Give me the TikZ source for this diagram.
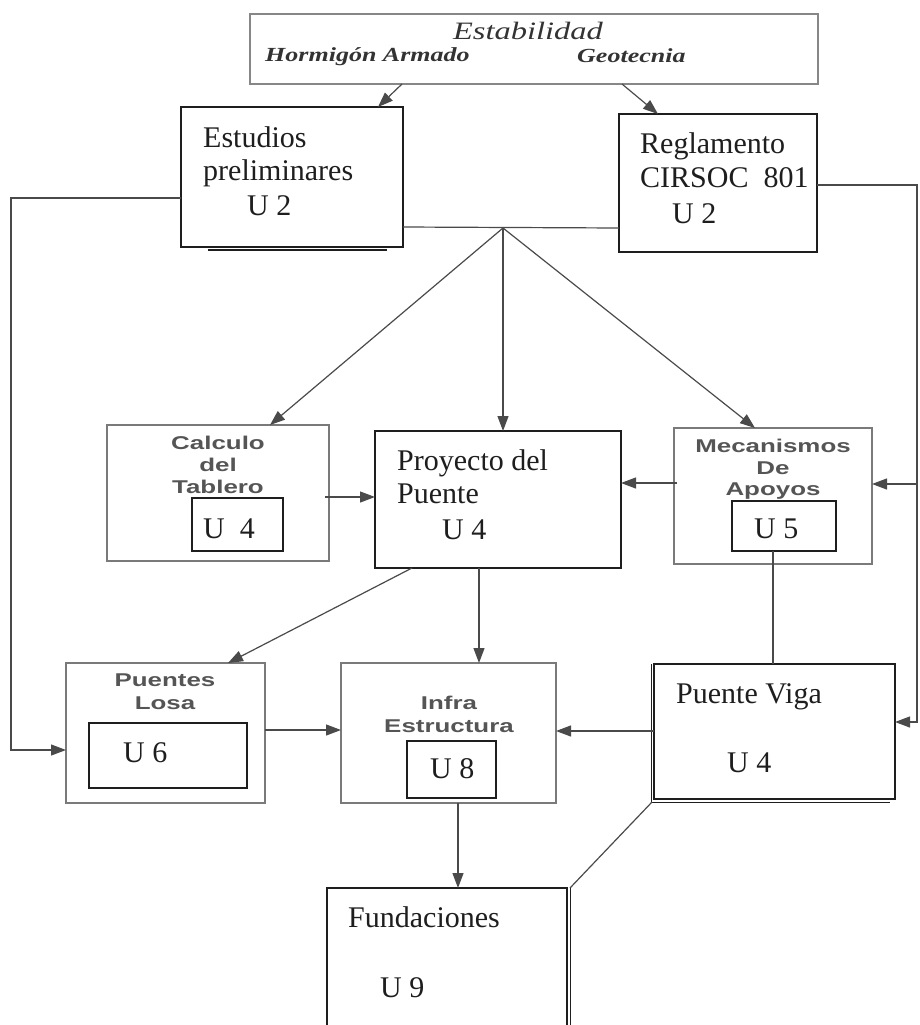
\documentclass[tikz,border=0pt]{standalone}
\usepackage{fontspec}
\setmainfont{Liberation Serif}
\newfontfamily\gsans[FakeStretch=1.4]{Liberation Sans}
\newfontfamily\stabfont[FakeStretch=1.3]{Liberation Serif}
\newfontfamily\subfont[FakeStretch=1.3]{Liberation Serif}
\usetikzlibrary{arrows.meta,fit}
\definecolor{ink}{HTML}{1E1E1E}
\definecolor{lineg}{HTML}{4A4A4A}
\definecolor{boxg}{HTML}{7A7A7A}
\definecolor{txtg}{HTML}{555555}
\definecolor{topt}{HTML}{333333}
\begin{document}
\begin{tikzpicture}[x=1pt,y=-1pt,
 bk/.style={draw=ink, line width=1.3pt, inner sep=0pt, outer sep=0pt},
 gb/.style={draw=boxg, line width=1.5pt, inner sep=0pt, outer sep=0pt},
 tx/.style={anchor=base west, inner sep=0pt, text=ink, font=\fontsize{30}{34}\selectfont},
 gx/.style={anchor=base, inner sep=0pt, text=txtg, font=\gsans\bfseries\fontsize{18.5}{22}\selectfont},
 con/.style={draw=lineg, line width=1.2pt},
 arr/.style={con, -{Triangle[length=15pt,width=11pt]}}]

\useasboundingbox (0,0) rectangle (920,1025);
\clip (0,0) rectangle (920,1025);
\fill[white] (0,0) rectangle (920,1025);

% ---------- boxes ----------
\node[gb, draw=boxg!90, line width=1.3pt, fit={(250,14) (818,84)}] (top) {};
\node[bk, fit={(181,107) (403,247)}] (est) {};
\node[bk, fit={(619,114) (817,252)}] (reg) {};
\node[gb, fit={(107,425) (329,561)}] (calc) {};
\node[bk, line width=1.2pt, fit={(192,498) (283,551)}] (u4a) {};
\node[bk, fit={(375,431) (621,568)}] (proy) {};
\node[gb, fit={(674,428) (872,564)}] (mec) {};
\node[bk, line width=1.2pt, fit={(732,501) (836,551)}] (u5) {};
\node[gb, fit={(66,663) (265,803)}] (losa) {};
\node[bk, line width=1.2pt, fit={(89,723) (247,788)}] (u6) {};
\node[gb, fit={(341,663) (556,803)}] (infra) {};
\node[bk, line width=1.2pt, fit={(407,741) (496,798)}] (u8) {};
\node[bk, fit={(654,664) (895,799)}] (viga) {};
\node[bk, fit={(327,888) (567,1040)}] (fund) {};

% doubled edges of the scanned boxes
\draw[ink, line width=2pt] (208,249.5) -- (387,249.5);
\draw[ink, line width=1pt] (651.5,664) -- (651.5,802.5) -- (890,802.5);
\draw[ink, line width=1pt] (570.5,888) -- (570.5,1025);

% ---------- texts ----------
\node[anchor=base, inner sep=0pt, text=topt, font=\stabfont\itshape\fontsize{25}{28}\selectfont] (tStab) at (528,40) {Estabilidad};
\node[anchor=base west, inner sep=0pt, text=topt, font=\subfont\bfseries\itshape\fontsize{20}{22}\selectfont] (tHor) at (265,62) {Hormigón Armado};
\node[anchor=base west, inner sep=0pt, text=topt, font=\subfont\bfseries\itshape\fontsize{20}{22}\selectfont] (tGeo) at (577,63) {Geotecnia};

\node[tx] (e1) at (203,147) {Estudios};
\node[tx] (e2) at (203,180) {preliminares};
\node[tx] (e3) at (247,215) {U 2};

\node[tx] (r1) at (640,153) {Reglamento};
\node[tx] (r2) at (640,187) {CIRSOC\ \ 801};
\node[tx] (r3) at (672,223) {U 2};

\node[gx] (c1) at (218,449) {Calculo};
\node[gx] (c2) at (218,471) {del};
\node[gx] (c3) at (218,493) {Tablero};
\node[tx] (c4) at (203,538) {U\ \ 4};

\node[tx] (p1) at (397,470) {Proyecto del};
\node[tx] (p2) at (397,503) {Puente};
\node[tx] (p3) at (442,539) {U 4};

\node[gx] (m1) at (773,452) {Mecanismos};
\node[gx] (m2) at (773,474) {De};
\node[gx] (m3) at (773,495) {Apoyos};
\node[tx] (m4) at (754,538) {U 5};

\node[gx] (l1) at (165,686) {Puentes};
\node[gx] (l2) at (165,709) {Losa};
\node[tx] (l3) at (123,762) {U 6};

\node[gx] (i1) at (449,709) {Infra};
\node[gx] (i2) at (449,732) {Estructura};
\node[tx] (i3) at (430,778) {U 8};

\node[tx] (v1) at (676,703) {Puente Viga};
\node[tx] (v2) at (727,772) {U 4};

\node[tx] (f1) at (348,927) {Fundaciones};
\node[tx] (f2) at (380,997) {U 9};

% ---------- connectors ----------
\coordinate (J) at (503,228);
\draw[arr] ([xshift=152pt]top.south west) -- ([xshift=197pt]est.north west);
\draw[arr] ([xshift=372pt]top.south west) -- ([xshift=39pt]reg.north west);
\draw[con] ([yshift=20pt]est.south east) -- ([yshift=24pt]reg.south west);
\draw[arr] (J) -- ([xshift=163pt]calc.north west);
\draw[arr] (J) -- (J |- proy.north);
\draw[arr] (J) -- ([xshift=81pt]mec.north west);

% left loop
\draw[arr] ([yshift=-91pt]est.north west) -| ([xshift=-55pt,yshift=-87pt]losa.north west) -- ([yshift=-87pt]losa.north west);
% right loop
\draw[arr] ([yshift=-71pt]reg.north east) -| ([xshift=22pt,yshift=-58pt]viga.north east) -- ([yshift=-58pt]viga.north east);
\draw[arr] ([xshift=45pt,yshift=-56pt]mec.north east) -- ([yshift=-56pt]mec.north east);

\draw[arr] ([xshift=-4pt,yshift=-72pt]calc.north east) -- ([yshift=-66pt]proy.north west);
\draw[arr] ([xshift=3pt,yshift=-55pt]mec.north west) -- ([yshift=-52pt]proy.north east);
\draw[arr] ([xshift=37pt]proy.south west) -- ([xshift=162pt]losa.north west);
\draw[arr] ([xshift=104pt]proy.south west) -- ([xshift=138pt]infra.north west);
\draw[con] ([xshift=41pt]u5.south west) -- ([xshift=119pt]viga.north west);
\draw[arr] ([yshift=-67pt]losa.north east) -- ([yshift=-67pt]infra.north west);
\draw[arr] ([yshift=-67pt]viga.north west) -- ([yshift=-68pt]infra.north east);
\draw[arr] ([xshift=117pt]infra.south west) -- ([xshift=131pt]fund.north west);
\draw[con] ([xshift=-2pt,yshift=-3pt]viga.south west) -- ([xshift=3pt]fund.north east);
\end{tikzpicture}
\end{document}
